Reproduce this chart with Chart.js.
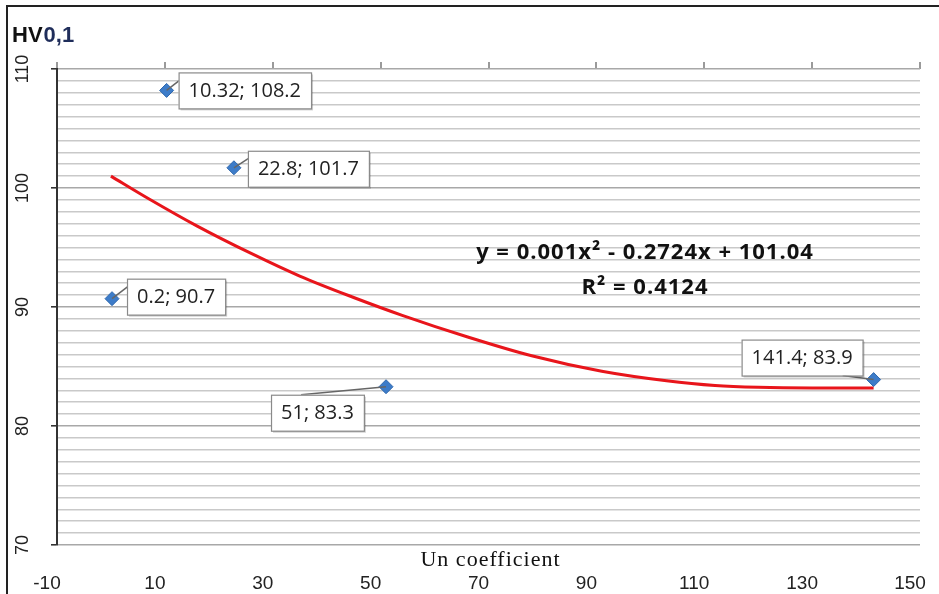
<!DOCTYPE html>
<html>
<head>
<meta charset="utf-8">
<script src="https://cdn.jsdelivr.net/npm/chart.js@4.4.0/dist/chart.umd.min.js"></script>
<style>
  html, body { margin: 0; padding: 0; background: #fff; }
  #wrap { width: 939px; height: 594px; position: relative; }
</style>
</head>
<body>
<div id="wrap"><canvas id="chart"></canvas></div>
<script>
// measured points (Un coefficient, HV0,1)
const pointX = [0.2, 10.32, 22.8, 51, 141.4];
const pointY = [90.7, 108.2, 101.7, 83.3, 83.9];
const pointLabels = ['0.2; 90.7', '10.32; 108.2', '22.8; 101.7', '51; 83.3', '141.4; 83.9'];

// polynomial trend line
const trendX = [0, 7, 16, 26, 35, 45, 54, 66, 78, 91, 103, 112, 120, 130, 141.4];
const trendY = [101.0, 99.1, 96.8, 94.5, 92.6, 90.8, 89.3, 87.5, 85.9, 84.6, 83.8, 83.4, 83.25, 83.2, 83.2];

const xTicks = [-10, 10, 30, 50, 70, 90, 110, 130, 150];
const yTicks = [70, 80, 90, 100, 110];

const equationText = 'y = 0.001x² - 0.2724x + 101.04';
const r2Text = 'R² = 0.4124';

// callout box placement relative to each point (dx, dy of box top-left)
const calloutOffsets = [[15, -20], [12, -18], [14, -17], [-115, 8], [-132, -40]];

const toXY = (xs, ys) => xs.map((x, i) => ({ x: x, y: ys[i] }));

const decorPlugin = {
  id: 'decor',
  afterDraw(chart) {
    const ctx = chart.ctx;
    const xs = chart.scales.x;
    const ys = chart.scales.y;
    const area = chart.chartArea;
    ctx.save();

    // outer frame
    ctx.strokeStyle = '#222';
    ctx.lineWidth = 2;
    ctx.beginPath();
    ctx.moveTo(7, 594);
    ctx.lineTo(7, 6);
    ctx.lineTo(939, 6);
    ctx.stroke();

    // y axis title
    ctx.font = 'bold 22px "Liberation Sans", Arial, sans-serif';
    ctx.textBaseline = 'middle';
    ctx.textAlign = 'left';
    ctx.fillStyle = '#111';
    ctx.fillText('HV', 12, 36);
    const hvW = ctx.measureText('HV').width;
    ctx.fillStyle = '#1f2d5a';
    ctx.fillText('0,1', 12 + hvW + 1, 36);

    // rotated y tick labels
    ctx.font = '18px "Liberation Sans", Arial, sans-serif';
    ctx.fillStyle = '#222';
    ctx.textAlign = 'center';
    yTicks.forEach(v => {
      ctx.save();
      ctx.translate(23, ys.getPixelForValue(v));
      ctx.rotate(-Math.PI / 2);
      ctx.fillText(String(v), 0, 0);
      ctx.restore();
    });

    // x axis title sits between the plot and the tick labels
    ctx.font = '22px "Liberation Serif", "Times New Roman", serif';
    ctx.letterSpacing = '1px';
    ctx.fillStyle = '#111';
    ctx.fillText('Un coefficient', (area.left + area.right) / 2 + 2, area.bottom + 15);

    // trend equation
    ctx.font = 'bold 22px "Open Sans", "Liberation Sans", sans-serif';
    ctx.letterSpacing = '1px';
    ctx.fillText(equationText, 645, 253);
    ctx.fillText(r2Text, 645, 288);
    ctx.letterSpacing = '0px';

    // data callouts
    ctx.font = '20px "Open Sans", "Liberation Sans", sans-serif';
    pointX.forEach((x, i) => {
      const px = xs.getPixelForValue(x);
      const py = ys.getPixelForValue(pointY[i]);
      const w = ctx.measureText(pointLabels[i]).width + 20;
      const h = 36;
      const bx = px + calloutOffsets[i][0];
      const by = py + calloutOffsets[i][1];
      // leader line
      ctx.strokeStyle = '#666';
      ctx.lineWidth = 1.5;
      ctx.beginPath();
      let lx, ly;
      if (calloutOffsets[i][0] > 0) { lx = bx + 6; ly = by + 4; }
      else if (calloutOffsets[i][1] > 0) { lx = bx + 30; ly = by; }
      else { lx = bx + w - 20; ly = by + h; }
      ctx.moveTo(lx, ly);
      ctx.lineTo(px, py);
      ctx.stroke();
      // shadow
      ctx.fillStyle = 'rgba(0,0,0,0.18)';
      ctx.fillRect(bx + 2, by + 2, w, h);
      ctx.fillStyle = '#fff';
      ctx.fillRect(bx, by, w, h);
      ctx.strokeStyle = '#8a8a8a';
      ctx.lineWidth = 1.2;
      ctx.strokeRect(bx + 0.5, by + 0.5, w, h);
      ctx.fillStyle = '#222';
      ctx.textAlign = 'center';
      ctx.fillText(pointLabels[i], bx + w / 2, by + h / 2 + 1);
    });

    ctx.restore();
  }
};

const noPad = s => { s.paddingLeft = 0; s.paddingRight = 0; };

new Chart(document.getElementById('chart'), {
  type: 'scatter',
  data: {
    datasets: [
      {
        label: 'HV0,1',
        data: toXY(pointX, pointY),
        pointStyle: 'rectRot',
        pointRadius: 7,
        pointHoverRadius: 7,
        backgroundColor: '#3d7cc9',
        borderColor: '#2f68ad',
        borderWidth: 1
      },
      {
        label: 'Poly. (HV0,1)',
        data: toXY(trendX, trendY),
        showLine: true,
        borderColor: '#e8151b',
        borderWidth: 3,
        pointRadius: 0,
        cubicInterpolationMode: 'monotone',
        fill: false
      }
    ]
  },
  options: {
    responsive: true,
    maintainAspectRatio: false,
    animation: false,
    layout: { padding: { left: 0, right: 19, top: 0, bottom: 0 } },
    plugins: {
      legend: { display: false },
      tooltip: { enabled: false }
    },
    scales: {
      x: {
        type: 'linear',
        position: 'bottom',
        min: -10,
        max: 150,
        afterFit: s => { s.height = 49; noPad(s); },
        grid: { display: false, drawTicks: false },
        border: { display: false },
        ticks: {
          stepSize: 20,
          padding: 27,
          labelOffset: -10,
          color: '#222',
          font: { family: '"Liberation Sans", Arial, sans-serif', size: 19 },
          callback: v => xTicks.includes(v) ? String(v) : ''
        }
      },
      x2: {
        type: 'linear',
        position: 'top',
        min: -10,
        max: 150,
        afterFit: s => { s.height = 69; noPad(s); },
        grid: { drawOnChartArea: false, drawTicks: true, tickLength: 7, color: '#9a9a9a', lineWidth: 2 },
        border: { display: false },
        ticks: { display: false, stepSize: 20 }
      },
      y: {
        type: 'linear',
        min: 70,
        max: 110,
        afterFit: s => { s.width = 57; },
        border: { display: true, color: '#333', width: 2 },
        grid: {
          color: c => (c.tick && c.tick.value % 10 === 0) ? '#a8a8a8' : '#c9c9c9',
          lineWidth: 1.6,
          tickLength: 6,
          tickColor: c => (c.tick && c.tick.value % 10 === 0) ? '#333' : 'rgba(0,0,0,0)'
        },
        ticks: { display: false, stepSize: 1 }
      }
    }
  },
  plugins: [decorPlugin]
});
</script>
</body>
</html>
